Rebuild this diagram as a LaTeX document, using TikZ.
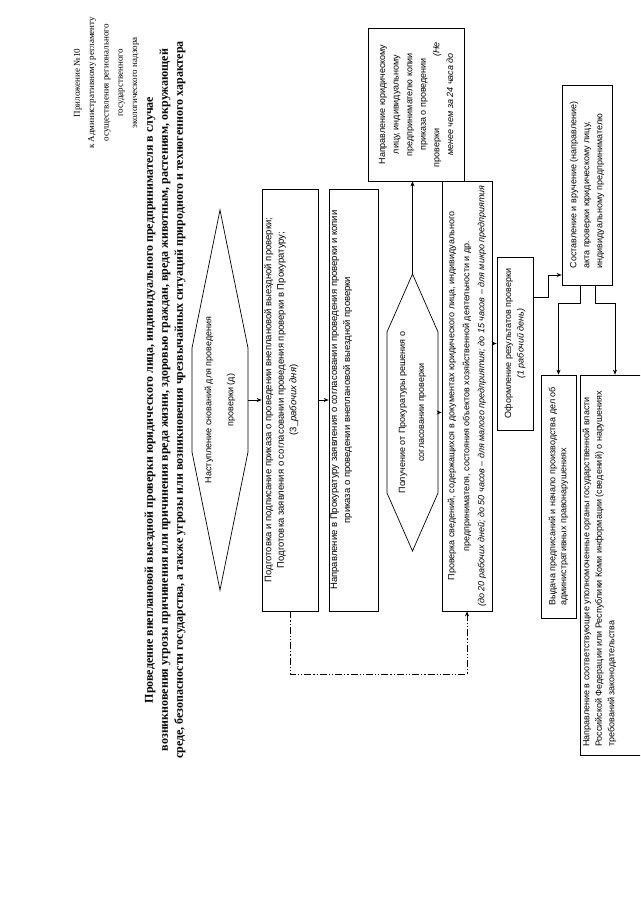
\documentclass[tikz,border=0pt]{standalone}
\usepackage{fontspec}
\setmainfont{Liberation Serif}
\setsansfont{Liberation Sans}
\usetikzlibrary{arrows.meta}

\tikzset{
  blok/.style={draw, rectangle, line width=0.7pt, inner sep=2pt, align=center,
    font=\sffamily\fontsize{9}{12.5}\selectfont},
  txt/.style={inner sep=0pt, align=center, font=\sffamily\fontsize{9}{12.5}\selectfont},
  ramka/.style={line width=0.7pt},
  strel/.style={->, line width=0.7pt},
  vozvrat/.style={->, line width=0.9pt, dash pattern=on 7pt off 2pt on 1.2pt off 2pt on 1.2pt off 2pt}
}

\begin{document}
\begin{tikzpicture}[x=1pt, y=1pt, shift={(640,-905)}, rotate=90,
    every node/.style={transform shape}, >={Stealth[length=5pt, width=4pt]}]
  \path[use as bounding box, clip] (0,0) rectangle (905,640);

  % Шапка
  \node[align=center, font=\fontsize{9}{14.3}\selectfont] (prilozh) at (822,533.5)
    {Приложение №10\\к Административному регламенту\\осуществления регионального\\государственного\\экологического надзора};
  \node[align=center, font=\bfseries\fontsize{12}{15}\selectfont] (zagolovok) at (505,475)
    {Проведение внеплановой выездной проверки юридического лица, индивидуального предпринимателя в случае\\
     возникновения угрозы причинения или причинения вреда жизни, здоровью граждан, вреда животным, растениям, окружающей\\
     среде, безопасности государства, а также угрозы или возникновения чрезвычайных ситуаций природного и техногенного характера};

  % Основания
  \draw[ramka] (315,420) -- (453,448) -- (557,448) -- (695,420) -- (557,392) -- (453,392) -- cycle;
  \node[txt, minimum width=380, minimum height=56, font=\sffamily\fontsize{9}{22}\selectfont] (osnov) at (505,420)
    {Наступление снований для проведения\\проверки (д)};

  % Приказ и заявление
  \node[blok, minimum width=422, minimum height=56] (prikaz) at (505,350) {};
  \node[txt, anchor=north, font=\sffamily\fontsize{9.5}{12.5}\selectfont] (prikaz-t) at (505,376)
    {Подготовка и подписание приказа о проведении внеплановой выездной проверки;\\
     Подготовка заявления о согласовании проведения проверки в Прокуратуру;\\
     (3\_\textit{рабочих дня})};
  \node[blok, minimum width=422, minimum height=49] (prokur) at (505,286.5) {};
  \node[txt, anchor=north, font=\sffamily\fontsize{9.5}{13}\selectfont] (prokur-t) at (505,309.5)
    {Направление в Прокуратуру заявления о согласовании проведения проверки и копии\\
     приказа о проведении внеплановой выездной проверки};

  % Решение Прокуратуры
  \draw[ramka] (354,227.5) -- (412,253) -- (573,253) -- (631,227.5) -- (573,202) -- (412,202) -- cycle;
  \node[txt, minimum width=277, minimum height=51, font=\sffamily\fontsize{9}{19}\selectfont] (reshenie) at (492.5,227.5)
    {Получение от Прокуратуры решения о\\согласовании проверки};

  % Уведомление
  \node[blok, minimum width=153, minimum height=96, font=\sffamily\fontsize{9}{13.6}\selectfont] (napravl) at (800.5,224)
    {Направление юридическому\\лицу, индивидуальному\\предпринимателю копии\\приказа о проведении\\
     \makebox[125pt]{проверки\hfill\textit{(Не}}\\\textit{менее чем за 24 часа до}};

  % Проверка
  \node[blok, minimum width=430, minimum height=50, font=\sffamily\fontsize{9}{15}\selectfont] (proverka) at (509,173)
    {Проверка сведений, содержащихся в документах юридического лица, индивидуального\\
     предпринимателя, состояния объектов хозяйственной деятельности и др.\\
     \textit{(до 20 рабочих дней; до 50 часов – для малого предприятия; до 15 часов – для микро предприятия}};

  % Результаты
  \node[blok, minimum width=173, minimum height=36] (oform) at (561.5,125)
    {Оформление результатов проверки\\\textit{(1 рабочий день)}};
  \node[blok, minimum width=200, minimum height=50, align=left, font=\sffamily\fontsize{9}{13}\selectfont] (akt) at (720,53)
    {Составление и вручение (направление)\\акта проверки юридическому лицу,\\индивидуальному предпринимателю};
  \node[blok, minimum width=243, minimum height=35, align=left, font=\sffamily\fontsize{9}{11}\selectfont] (predpis) at (408.5,81.5)
    {Выдача предписаний и начало производства дел об\\административных правонарушениях};
  \node[blok, minimum width=380, minimum height=70] (vedom) at (340,25) {};
  \node[txt, anchor=north west, align=left] (vedom-t) at (158,57.5)
    {Направление в соответствующие уполномоченные органы государственной власти\\
     Российской Федерации или Республики Коми информации (сведений) о нарушениях\\
     требований законодательства};

  % Связи
  \coordinate (vozvr) at (231,350);
  \coordinate (izlom) at (608,92);
  \coordinate (vhod) at (630,78);
  \coordinate (razv1) at (602,60);
  \coordinate (razv2) at (602,45);

  \draw[strel] (osnov.south) -- (prikaz.north);
  \draw[strel] (prikaz.south) -- (prokur.north);
  \draw[strel] (reshenie.south) -- (reshenie.south |- proverka.north);
  \draw[strel] (reshenie.east) -- (reshenie.east -| napravl.west);
  \draw[strel] (oform.north |- proverka.south) -- (oform.north);
  \draw[vozvrat] (prikaz.west) -- (prikaz.west -| vozvr) |- (proverka.west);
  \draw[strel] (oform.south -| izlom) -- (izlom) -| (akt.north -| vhod);
  \draw[strel] (akt.west |- razv1) -- (razv1) |- (predpis.east);
  \draw[strel] (akt.west |- razv2) -- (razv2) |- (vedom.east);
\end{tikzpicture}
\end{document}
